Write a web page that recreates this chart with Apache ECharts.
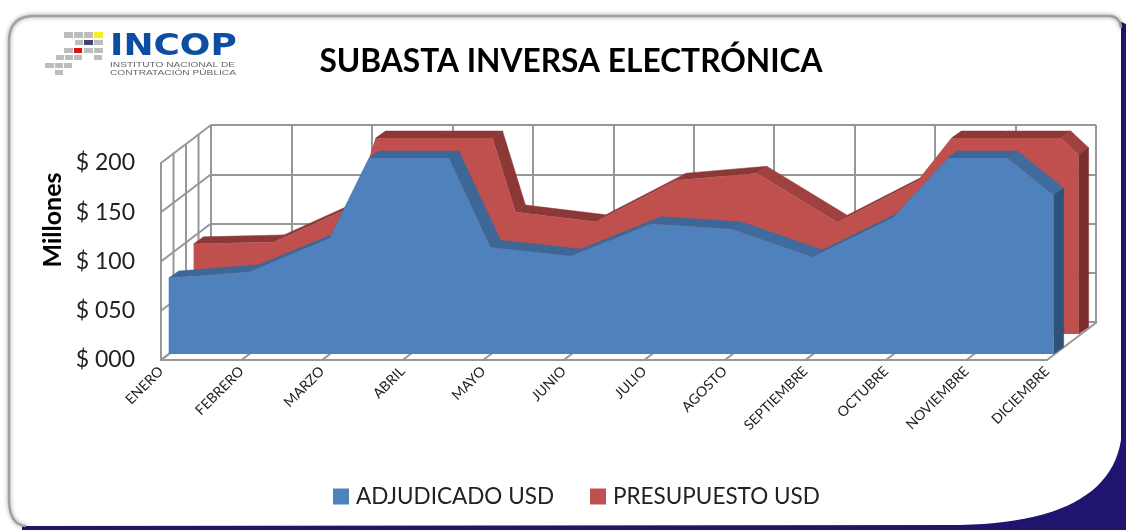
<!DOCTYPE html>
<html><head><meta charset="utf-8">
<style>html,body{margin:0;padding:0;background:#fff}#c{width:1126px;height:530px}</style>
<script src="https://cdn.jsdelivr.net/npm/echarts@6/dist/echarts.min.js"></script>
</head><body><div id="c"></div>
<script>
const categories = ['ENERO','FEBRERO','MARZO','ABRIL','MAYO','JUNIO','JULIO','AGOSTO','SEPTIEMBRE','OCTUBRE','NOVIEMBRE','DICIEMBRE'];
const adjudicado = [77.5,84,118,285,109,100,133,127.5,99,139,228,162];
const presupuesto = [92,94,131,390,124.5,114.5,157,164,114,156,260,183];
const yTicks = [0,50,100,150,200];
const Y_MAX = 200;

const GRID = '#979797';
const WALL = [50,-38];
const chart = echarts.init(document.getElementById('c'));

function depthSeries(values, gridIdx, d, cols, z){
  const data = values.map((v,i)=>[i,v]);
  return {type:'custom',xAxisIndex:gridIdx,yAxisIndex:gridIdx,z,silent:true,clip:false,data,
    encode:{x:0,y:1},
    renderItem(p,api){
      const i=api.value(0), a=api.value(1), b=values[i+1];
      const kids=[];
      const poly=(A,B,col)=>kids.push({type:'polygon',shape:{points:[A,B,[B[0]+d[0],B[1]+d[1]],[A[0]+d[0],A[1]+d[1]]]},style:{fill:col,stroke:col,lineWidth:0.5}});
      if(b!==undefined){
        const L=api.coord([i,Y_MAX])[0], R=api.coord([i+1,Y_MAX])[0];
        const pt=(f,v)=>[L+(R-L)*f,api.coord([i,v])[1]];
        const ca=Math.min(a,Y_MAX), cb=Math.min(b,Y_MAX);
        const f=(b===a)?0:(Y_MAX-a)/(b-a);
        const shade=(a-b)>100?cols.top:((a-b)>20?cols.down:cols.top);
        if(a>Y_MAX&&b>Y_MAX) poly(pt(0,Y_MAX),pt(1,Y_MAX),cols.top);
        else if(a>Y_MAX){poly(pt(0,Y_MAX),pt(f,Y_MAX),cols.top);poly(pt(f,Y_MAX),pt(1,cb),shade);}
        else if(b>Y_MAX){poly(pt(0,ca),pt(f,Y_MAX),cols.top);poly(pt(f,Y_MAX),pt(1,Y_MAX),cols.top);}
        else poly(pt(0,ca),pt(1,cb),shade);
      } else {
        poly(api.coord([i,Math.min(a,Y_MAX)]),api.coord([i,0]),cols.side);
      }
      return {type:'group',children:kids};
    }};
}
function frameSeries(){
  const data = categories.map((c,i)=>[i,0]);
  return {type:'custom',xAxisIndex:0,yAxisIndex:0,z:1,silent:true,clip:false,data,encode:{x:0,y:1},
    renderItem(p,api){
      const i=api.value(0), kids=[];
      const ln=(a,b)=>kids.push({type:'line',shape:{x1:a[0],y1:a[1],x2:b[0],y2:b[1]},style:{stroke:GRID,lineWidth:2}});
      const P=api.coord([i,0]);
      ln(P,[P[0]+WALL[0],P[1]+WALL[1]]);
      if(i===0){
        yTicks.forEach(t=>{const Q=api.coord([0,t]);ln(Q,[Q[0]+WALL[0],Q[1]+WALL[1]]);});
        [1,2,3].forEach(k=>{
          const f=k/4.0, A=api.coord([0,0]), B=api.coord([0,Y_MAX]);
          ln([A[0]+WALL[0]*f,A[1]+WALL[1]*f],[B[0]+WALL[0]*f,B[1]+WALL[1]*f]);
        });
      }
      return {type:'group',children:kids};
    }};
}
const hiddenX = g=>({type:'category',gridIndex:g,boundaryGap:false,data:categories,show:false});
const hiddenY = g=>({type:'value',gridIndex:g,min:0,max:Y_MAX,interval:50,show:false});

function qb(p0,p1,p2){const o=[];for(let k=0;k<=24;k++){const t=k/24,u=1-t;o.push([u*u*p0[0]+2*u*t*p1[0]+t*t*p2[0],u*u*p0[1]+2*u*t*p1[1]+t*t*p2[1]]);}return o;}
const leftTopPts=[
 ...qb([26,526],[9,525],[9,498]),
 ...qb([9,42],[9,16],[34,16]),
 ...qb([1108,16],[1120,16],[1121,28])
];
const panelPts=[...leftTopPts,...qb([1121,440],[1108,522],[960,525])];
const navyPts=[[22,530],[1126,530],[1126,24],[1112,18],[1000,450],[22,520]];

const sq=[[64,32,9,6,'#bdbdbd'],[74,32,9,6,'#bdbdbd'],[84,32,9,6,'#bdbdbd'],[94,32,9,6,'#f6f01e'],
 [75,40,8,5,'#bdbdbd'],[84,40,9,5,'#45406e'],[94,40,9,5,'#bdbdbd'],
 [64,48,9,5,'#bdbdbd'],[74,48,8,5,'#e0101a'],[84,48,9,5,'#bdbdbd'],[94,48,9,5,'#bdbdbd'],
 [56,55,8,5,'#bdbdbd'],[65,55,8,5,'#bdbdbd'],[74,55,8,5,'#bdbdbd'],[94,55,8,5,'#bdbdbd'],
 [45,63,9,5,'#bdbdbd'],[55,63,8,5,'#bdbdbd'],[64,63,8,5,'#bdbdbd'],[55,70,8,5,'#bdbdbd']];
const graphic=[
 {type:'polygon',z:-6,silent:true,shape:{points:navyPts},style:{fill:'#1f146e'}},
 {type:'polygon',z:-5,silent:true,shape:{points:panelPts},style:{fill:'#fff'}},
 {type:'polyline',z:-4,silent:true,shape:{points:leftTopPts},style:{fill:null,stroke:'#a0a0a0',lineWidth:2.5,shadowBlur:4,shadowColor:'rgba(0,0,0,0.4)'}},
 ...sq.map(s=>({type:'rect',z:-3,silent:true,shape:{x:s[0],y:s[1],width:s[2],height:s[3]},style:{fill:s[4]}})),
 {type:'text',z:-3,silent:true,x:110,y:31,scaleX:1.16,style:{text:'INCOP',font:'bold 31px "DejaVu Sans"',fill:'#0b4ea2'}},
 {type:'text',z:-3,silent:true,x:110,y:62,scaleX:1.45,style:{text:'INSTITUTO NACIONAL DE',font:'7px "Liberation Sans"',fill:'#666'}},
 {type:'text',z:-3,silent:true,x:110,y:70,scaleX:1.45,style:{text:'CONTRATACIÓN PÚBLICA',font:'7px "Liberation Sans"',fill:'#666'}},
 {type:'text',z:-3,silent:true,x:571,y:61.5,style:{text:'SUBASTA INVERSA ELECTRÓNICA',font:'bold 31.7px Lato',fill:'#000',align:'center',verticalAlign:'middle'}},
 {type:'text',z:-3,silent:true,x:53,y:220,rotation:Math.PI/2,style:{text:'Millones',font:'bold 25px Lato',fill:'#000',align:'center',verticalAlign:'middle'}}
];

chart.setOption({
  animation:false,
  backgroundColor:'#fff',
  graphic,
  legend:{left:333,top:485,padding:0,itemWidth:16,itemHeight:16,itemGap:36,icon:'rect',
    data:['ADJUDICADO USD','PRESUPUESTO USD'],
    textStyle:{fontFamily:'Lato',fontSize:22.5,color:'#222',padding:[0,0,0,2]}},
  grid:[
    {left:161,top:163,width:886,height:197},
    {left:211,top:125,width:885,height:197},
    {left:193.6,top:138,width:885,height:196},
    {left:168.7,top:158,width:885,height:196}
  ],
  xAxis:[
    {type:'category',gridIndex:0,boundaryGap:false,data:categories,
      axisLine:{lineStyle:{color:GRID,width:2}},axisTick:{show:false},splitLine:{show:false},
      axisLabel:{interval:0,rotate:45,margin:9,fontFamily:'Lato',fontSize:14,color:'#222',hideOverlap:false}},
    {type:'category',gridIndex:1,boundaryGap:false,data:categories,
      axisLine:{show:true,lineStyle:{color:GRID,width:2}},axisTick:{show:false},axisLabel:{show:false},
      splitLine:{show:true,interval:0,lineStyle:{color:GRID,width:2}}},
    hiddenX(2),hiddenX(3)
  ],
  yAxis:[
    {type:'value',gridIndex:0,min:0,max:Y_MAX,interval:50,
      axisLine:{show:true,lineStyle:{color:GRID,width:2}},axisTick:{show:false},splitLine:{show:false},
      axisLabel:{margin:26,fontFamily:'Lato',fontSize:23,color:'#222',padding:[3,0,0,0],
        formatter:v=>'$ '+String(v).padStart(3,'0')}},
    {type:'value',gridIndex:1,min:0,max:Y_MAX,interval:50,
      axisLine:{show:false},axisTick:{show:false},axisLabel:{show:false},
      splitLine:{show:true,lineStyle:{color:GRID,width:2}}},
    hiddenY(2),hiddenY(3)
  ],
  series:[
    frameSeries(),
    depthSeries(presupuesto,2,[10,-7],{top:'#8c3836',down:'#9e413f',side:'#7b2e2c'},3),
    {type:'line',name:'PRESUPUESTO USD',xAxisIndex:2,yAxisIndex:2,data:presupuesto,z:4,symbol:'none',silent:true,
      lineStyle:{width:0},itemStyle:{color:'#c0504d'},areaStyle:{color:'#c0504d',opacity:1}},
    depthSeries(adjudicado,3,[10,-7],{top:'#3d6797',down:'#3f6b9e',side:'#2f527a'},5),
    {type:'line',name:'ADJUDICADO USD',xAxisIndex:3,yAxisIndex:3,data:adjudicado,z:6,symbol:'none',silent:true,
      lineStyle:{width:0},itemStyle:{color:'#4f81bd'},areaStyle:{color:'#4f81bd',opacity:1}}
  ]
});
</script></body></html>
